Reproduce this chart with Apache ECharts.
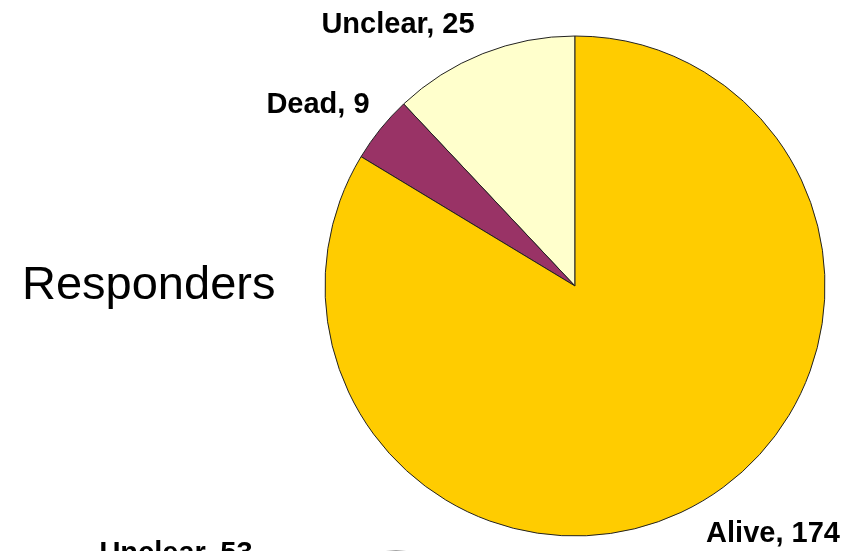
<!DOCTYPE html>
<html>
<head>
<meta charset="utf-8">
<script src="https://cdn.jsdelivr.net/npm/echarts@6/dist/echarts.min.js"></script>
<style>
  html, body { margin: 0; padding: 0; background: #ffffff; }
  #chart { width: 852px; height: 551px; }
</style>
</head>
<body>
<div id="chart"></div>
<script>
// Responders: outcome counts
const responderCategories = ['Unclear', 'Dead', 'Alive'];
const responderValues = [25, 9, 174];
const responderColors = ['#FFFFCC', '#993366', '#FFCC00'];

// Second group, only its top edge falls inside the page
const lowerCategories = ['Unclear'];
const lowerValues = [53];
const lowerColors = ['#FFFFCC'];

// Label anchor points (pixel centres) for each slice label
const responderLabelAt = [[398, 25], [318, 105], [773, 534]];
const lowerLabelAt = [[176, 554]];

const labelFont = {
  fontFamily: 'Liberation Sans, Arial, sans-serif',
  fontWeight: 'bold',
  fontSize: 29,
  color: '#000000',
  overflow: 'none'
};

function buildData(names, values, colors) {
  return names.map((n, i) => ({ name: n, value: values[i], itemStyle: { color: colors[i] } }));
}

const chart = echarts.init(document.getElementById('chart'), null, { renderer: 'canvas' });

chart.setOption({
  backgroundColor: '#ffffff',
  animation: false,
  graphic: [{
    type: 'text',
    left: 22,
    top: 263,
    style: {
      text: 'Responders',
      font: '47px "Liberation Sans", Arial, sans-serif',
      fill: '#000000'
    }
  }],
  series: [
    {
      type: 'pie',
      center: [575, 286],
      radius: 250,
      startAngle: 90,
      clockwise: false,
      silent: true,
      itemStyle: { borderColor: '#222222', borderWidth: 1 },
      label: Object.assign({ show: true, position: 'outside', formatter: '{b}, {c}' }, labelFont),
      labelLine: { show: false },
      labelLayout: p => ({
        x: responderLabelAt[p.dataIndex][0],
        y: responderLabelAt[p.dataIndex][1],
        align: 'center',
        verticalAlign: 'middle'
      }),
      data: buildData(responderCategories, responderValues, responderColors)
    },
    {
      type: 'pie',
      center: [396, 801],
      radius: 250,
      startAngle: 90,
      clockwise: false,
      silent: true,
      itemStyle: { borderColor: '#444444', borderWidth: 1 },
      label: Object.assign({ show: true, position: 'outside', formatter: '{b}, {c}' }, labelFont),
      labelLine: { show: false },
      labelLayout: p => ({
        x: lowerLabelAt[p.dataIndex][0],
        y: lowerLabelAt[p.dataIndex][1],
        align: 'center',
        verticalAlign: 'middle'
      }),
      data: buildData(lowerCategories, lowerValues, lowerColors)
    }
  ]
});
</script>
</body>
</html>
